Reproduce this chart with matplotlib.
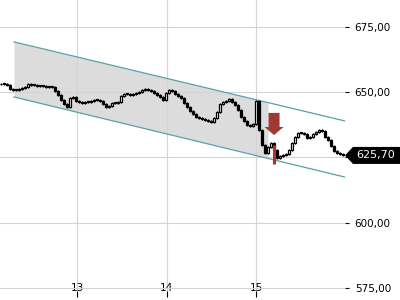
import numpy as np
import matplotlib
matplotlib.use("Agg")
import matplotlib.pyplot as plt
from matplotlib.patches import Polygon, FancyArrow
from matplotlib.ticker import FuncFormatter
from matplotlib.transforms import IdentityTransform

# closing prices, one candle per bar (open = previous close)
closes = [653.1, 653.1, 652.7, 651.1, 650.8, 650.8, 651.1, 651.5, 651.9, 653.1,
          652.7, 652.7, 652.3, 652.3, 652.3, 651.9, 651.9, 651.9, 650.4, 648.9,
          646.9, 645.4, 644.3, 647.7, 648.1, 646.6, 646.2, 645.8, 646.2, 646.2,
          646.6, 646.9, 646.9, 646.6, 645.4, 644.3, 644.6, 645.8, 645.8, 646.2,
          648.5, 649.2, 649.2, 648.9, 649.2, 649.6, 650.0, 650.8, 651.1, 650.8,
          650.4, 649.6, 648.9, 648.1, 646.9, 649.6, 650.8, 650.4, 649.2, 648.5,
          647.7, 645.8, 644.3, 642.7, 641.6, 640.4, 640.0, 639.7, 639.3, 638.9,
          638.5, 640.0, 642.3, 645.4, 646.2, 646.6, 647.3, 646.2, 645.0, 643.1,
          640.4, 638.9, 637.4, 637.0, 637.7, 646.5, 635.4, 629.7, 626.6, 628.9,
          630.5, 627.8, 624.7, 625.5, 625.9, 626.2, 627.8, 630.5, 632.8, 634.3,
          634.3, 633.9, 632.4, 632.8, 633.9, 634.7, 635.4, 635.1, 632.8, 631.6,
          629.3, 627.4, 626.6, 626.2, 625.7]
first_open = 653.0
t_start = 12.151
t_step = 0.03352

# trend channel
channel_x = [12.296, 15.994]
channel_upper = [669.2, 638.9]
channel_lower = [648.1, 617.4]
shade_end = 15.134

# sell signal
signal_idx = 91
signal_range = [622.6, 629.7]
arrow_top = 642.0
arrow_tip = 633.5

yticks = [575, 600, 625, 650, 675]
xticks = [13, 14, 15]

closes = np.array(closes)
opens = np.concatenate([[first_open], closes[:-1]])
t = t_start + t_step * np.arange(len(closes))

fig = plt.figure(figsize=(4, 3), dpi=100)
ax = fig.add_axes([0, 0.01, 0.8625, 0.99])
ax.set_xlim(12.14, 15.994)
ax.set_ylim(571.46, 685.25)

# shaded channel part
m = (channel_upper[1] - channel_upper[0]) / (channel_x[1] - channel_x[0])
xs = np.array([channel_x[0], shade_end])
up = channel_upper[0] + m * (xs - channel_x[0])
lo = channel_lower[0] + m * (xs - channel_x[0])
ax.fill_between(xs, lo, up, color="#dcdcdc", lw=0, zorder=0.2)
ax.plot(channel_x, channel_upper, color="#5b9fa8", lw=0.9, zorder=2)
ax.plot(channel_x, channel_lower, color="#5b9fa8", lw=0.9, zorder=2)

# candles
hi = np.maximum(opens, closes) + 0.3
lw_ = np.minimum(opens, closes) - 0.3
ax.vlines(t, lw_, hi, color="black", lw=0.9, zorder=3)
body = closes - opens
body = np.where(np.abs(body) < 0.25, 0.25, body)
face = np.where(closes >= opens, "white", "black")
ax.bar(t, body, bottom=opens, width=0.025, color=face, edgecolor="black",
       lw=0.9, zorder=4)

# signal marks
ax.vlines(t[signal_idx], signal_range[0], signal_range[1], color="#b3302c",
          lw=2.2, zorder=5)
ax.add_patch(FancyArrow(t[signal_idx], arrow_top, 0, arrow_tip - arrow_top,
                        width=0.123, head_width=0.212, head_length=3.1,
                        length_includes_head=True, color="#9c3a33", lw=0,
                        zorder=6))

# the 625 label sits under the last-price box
def fmt(v, p):
    if abs(v - closes[-1]) < 5:
        return ""
    return f"{v:.2f}".replace(".", ",")

for s in ax.spines.values():
    s.set_visible(False)
ax.yaxis.tick_right()
ax.set_yticks(yticks)
ax.yaxis.set_major_formatter(FuncFormatter(fmt))
ax.tick_params(axis="y", direction="out", length=3, width=0.8, pad=4, labelsize=7.5)
ax.set_xticks(xticks)
ax.tick_params(axis="x", direction="in", length=4, width=0.8, pad=-10, labelsize=7.5)
ax.grid(True, color="#d4d4d4", lw=0.8)
ax.set_axisbelow(True)

# last price label
xr = ax.transAxes.transform((1, 0))[0]
yl = ax.transData.transform((t[-1], closes[-1]))[1]
W = fig.bbox.width
verts = [(xr, yl), (xr + 8, yl + 8.5), (W, yl + 8.5), (W, yl - 8.5), (xr + 8, yl - 8.5)]
fig.add_artist(Polygon(verts, closed=True, fc="black", ec="none",
                       transform=IdentityTransform(), zorder=5))
fig.text(xr + 11, yl, f"{closes[-1]:.2f}".replace(".", ","), color="white",
         va="center", ha="left", fontsize=8, transform=IdentityTransform(),
         zorder=6)

fig.savefig("out.png", dpi=100)
